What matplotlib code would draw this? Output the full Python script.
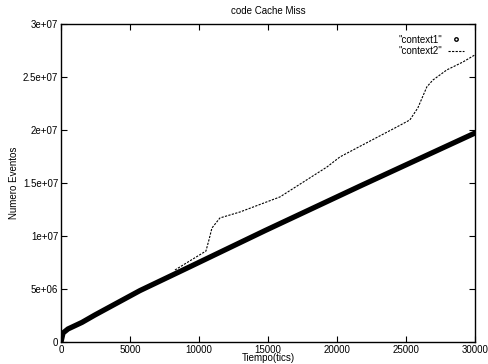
import matplotlib
matplotlib.use("Agg")
import matplotlib.pyplot as plt
from matplotlib.lines import Line2D
from matplotlib.ticker import FuncFormatter, MultipleLocator

plt.rcParams["font.family"] = ["Liberation Sans", "DejaVu Sans"]
plt.rcParams["font.size"] = 7

# values
ctx1_x = [0, 145, 507, 1520, 2460, 5725, 9348, 14783, 21667, 30000]
ctx1_y = [0, 0.85e6, 1.23e6, 1.85e6, 2.55e6, 4.85e6, 7.1e6, 10.5e6, 14.7e6, 19.7e6]

ctx2_x = [8261, 10507, 10725, 10942, 11522, 12971, 15870, 19275, 20217,
          21449, 24348, 25290, 25870, 26522, 26957, 27971, 29130, 30000]
ctx2_y = [6.79e6, 8.58e6, 9.62e6, 10.75e6, 11.7e6, 12.26e6, 13.68e6, 16.5e6,
          17.45e6, 18.3e6, 20.28e6, 20.94e6, 22.08e6, 24.06e6, 24.7e6,
          25.66e6, 26.4e6, 27.07e6]

fig = plt.figure(figsize=(4.88, 3.64), dpi=100)
ax = fig.add_axes([0.125, 0.0604, 0.848, 0.874])

ax.plot(ctx1_x, ctx1_y, color="black", linewidth=3.8, solid_capstyle="round",
        solid_joinstyle="round")
ax.plot(ctx2_x, ctx2_y, color="black", linewidth=0.8, linestyle=(0, (2, 1.2)))

ax.set_xlim(0, 30000)
ax.set_ylim(0, 3e7)
ax.xaxis.set_major_locator(MultipleLocator(5000))
ax.yaxis.set_major_locator(MultipleLocator(5e6))
fmt = FuncFormatter(lambda v, p: "%g" % v)
ax.xaxis.set_major_formatter(fmt)
ax.yaxis.set_major_formatter(fmt)
ax.tick_params(direction="in", length=4, width=0.8, top=True, right=True,
               labelsize=7, pad=2)
for s in ax.spines.values():
    s.set_linewidth(1.0)

ax.set_title("code Cache Miss", fontsize=7, pad=7)
ax.set_xlabel("Tiempo(tics)", fontsize=7, labelpad=-1)
ax.set_ylabel("Numero Eventos", fontsize=7, labelpad=3)

handles = [
    Line2D([], [], color="black", marker="o", markersize=2.5,
           markerfacecolor="white", linestyle="none"),
    Line2D([], [], color="black", linewidth=0.8, linestyle=(0, (2, 1.2))),
]
ax.legend(handles, ['"context1"', '"context2"'], loc="upper right",
          frameon=False, markerfirst=False, fontsize=7, handlelength=1.7,
          handletextpad=0.5, labelspacing=0.15, borderaxespad=0.9,
          borderpad=0.2)

fig.savefig("out.png", dpi=100)
